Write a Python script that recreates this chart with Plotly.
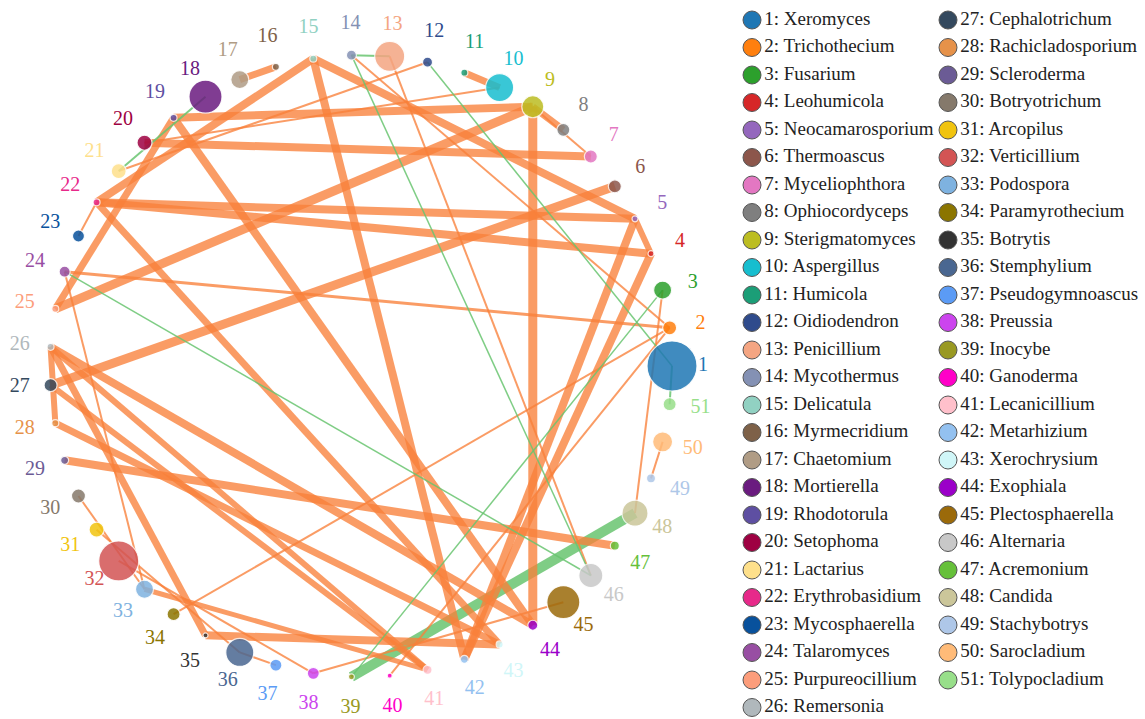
import math
import plotly.graph_objects as go

# Genera shown on the ring, in order
genera = [
    "Xeromyces", "Trichothecium", "Fusarium", "Leohumicola", "Neocamarosporium",
    "Thermoascus", "Myceliophthora", "Ophiocordyceps", "Sterigmatomyces", "Aspergillus",
    "Humicola", "Oidiodendron", "Penicillium", "Mycothermus", "Delicatula",
    "Myrmecridium", "Chaetomium", "Mortierella", "Rhodotorula", "Setophoma",
    "Lactarius", "Erythrobasidium", "Mycosphaerella", "Talaromyces", "Purpureocillium",
    "Remersonia", "Cephalotrichum", "Rachicladosporium", "Scleroderma", "Botryotrichum",
    "Arcopilus", "Verticillium", "Podospora", "Paramyrothecium", "Botrytis",
    "Stemphylium", "Pseudogymnoascus", "Preussia", "Inocybe", "Ganoderma",
    "Lecanicillium", "Metarhizium", "Xerochrysium", "Exophiala", "Plectosphaerella",
    "Alternaria", "Acremonium", "Candida", "Stachybotrys", "Sarocladium",
    "Tolypocladium",
]

node_colors = [
    "#1f77b4", "#ff7f0e", "#2ca02c", "#d62728", "#9467bd", "#8c564b", "#e377c2",
    "#7f7f7f", "#bcbd22", "#17becf", "#1b9e77", "#2f4b8c", "#f4a582", "#8491b4",
    "#91d1c2", "#7e6148", "#b09c85", "#6a1b7f", "#5e4fa2", "#9e0142", "#fee08b",
    "#e7298a", "#08519c", "#984ea3", "#fc9d7b", "#b0b8bc", "#34495e", "#e6924a",
    "#6b5b95", "#85796b", "#f1c40f", "#d35454", "#7eb2e0", "#8b7500", "#333333",
    "#4a6791", "#5b9bf5", "#cc44ee", "#999922", "#ff00c8", "#ffc0cb", "#93c1f0",
    "#d0f6f8", "#9b00c9", "#9b6a0a", "#c8c8c8", "#66c03a", "#cbc69a", "#aec7e8",
    "#ffbb78", "#98df8a",
]

# Relative abundance -> node diameter
node_size = [
    50, 14, 18, 6, 6, 13, 13, 13, 22, 28, 7, 10, 30, 10, 7, 7, 18, 33, 7, 15,
    15, 7, 12, 11, 7, 7, 13, 7, 8, 14, 15, 40, 18, 13, 5, 28, 12, 12, 6, 5,
    9, 8, 7, 10, 33, 24, 9, 26, 9, 20, 13,
]

# Co-occurrence links: source, target, strength, sign (+1 positive, -1 negative)
edge_src = [16, 11, 9, 19, 20, 9, 9, 27, 15, 15, 15, 22, 22, 5, 5, 4,
            19, 26, 26, 35, 29, 22, 25, 26, 28, 27, 26, 33,
            9, 21, 20, 14, 13, 24, 2, 2, 3, 50, 45, 30, 31, 32, 36, 24, 23,
            48, 12, 14, 14, 18, 3, 24, 1]
edge_dst = [17, 10, 8, 9, 7, 25, 44, 6, 5, 22, 42, 5, 4, 4, 42, 42,
            44, 44, 35, 43, 47, 43, 19, 41, 43, 41, 28, 41,
            7, 12, 10, 2, 46, 2, 34, 40, 48, 49, 38, 33, 36, 38, 37, 33, 22,
            39, 1, 46, 13, 21, 39, 46, 51]
edge_w = [7, 7, 7, 8, 8, 9, 9, 9, 8, 8, 8, 8, 8, 6, 8, 8,
          8, 8, 7, 8, 8, 7, 7, 6, 7, 6, 6, 5,
          2, 2, 2, 2, 2, 3, 2, 2, 2, 2, 2, 2, 2, 2, 2, 2, 2,
          10, 1.5, 1.5, 2, 2, 1.5, 1.5, 2]
edge_sign = [1] * 45 + [-1] * 8

CX, CY, R = 361, 366, 311
LABEL_R = 342
n = len(genera)
SERIF = "Liberation Serif"


def ring(k, radius):
    a = math.radians(k * 360.0 / n)
    return CX + radius * math.cos(a), CY - radius * math.sin(a)


pos = [ring(k, R) for k in range(n)]
lab = [ring(k, LABEL_R) for k in range(n)]

POS_COLOR = "rgba(248,128,58,0.78)"
NEG_COLOR = "rgba(104,196,112,0.85)"

fig = go.Figure()

# links, thin ones last so they stay visible
order = sorted(range(len(edge_src)), key=lambda i: -edge_w[i])
for i in order:
    (x0, y0), (x1, y1) = pos[edge_src[i] - 1], pos[edge_dst[i] - 1]
    fig.add_trace(go.Scatter(
        x=[x0, x1], y=[y0, y1], mode="lines",
        line=dict(color=POS_COLOR if edge_sign[i] > 0 else NEG_COLOR, width=edge_w[i]),
        hoverinfo="skip", showlegend=False,
    ))

# nodes
fig.add_trace(go.Scatter(
    x=[p[0] for p in pos], y=[p[1] for p in pos], mode="markers",
    marker=dict(size=node_size, color=node_colors, opacity=0.85,
                line=dict(color="rgba(255,255,255,0.9)", width=1.2)),
    text=genera, hoverinfo="text", showlegend=False,
))

# ring labels
fig.add_trace(go.Scatter(
    x=[p[0] for p in lab], y=[p[1] for p in lab], mode="text",
    text=[str(k + 1) for k in range(n)],
    textfont=dict(family=SERIF, size=20, color=node_colors),
    hoverinfo="skip", showlegend=False,
))

# two-column legend
ROWS = 26
leg_x, leg_y, leg_t = [], [], []
for k in range(n):
    col, row = divmod(k, ROWS)
    leg_x.append(752 + col * 196)
    leg_y.append(20 + row * 27.5)
    leg_t.append(f"{k + 1}: {genera[k]}")
fig.add_trace(go.Scatter(
    x=leg_x, y=leg_y, mode="markers+text",
    marker=dict(size=18, color=node_colors, line=dict(color="#555555", width=1)),
    text=leg_t, textposition="middle right",
    textfont=dict(family=SERIF, size=19, color="#222222"),
    hoverinfo="skip", showlegend=False,
))

fig.update_layout(
    width=1145, height=719,
    margin=dict(l=0, r=0, t=0, b=0),
    paper_bgcolor="white", plot_bgcolor="white",
    xaxis=dict(range=[0, 1145], visible=False, domain=[0, 1]),
    yaxis=dict(range=[719, 0], visible=False, domain=[0, 1]),
)

fig.write_html("out.html")
